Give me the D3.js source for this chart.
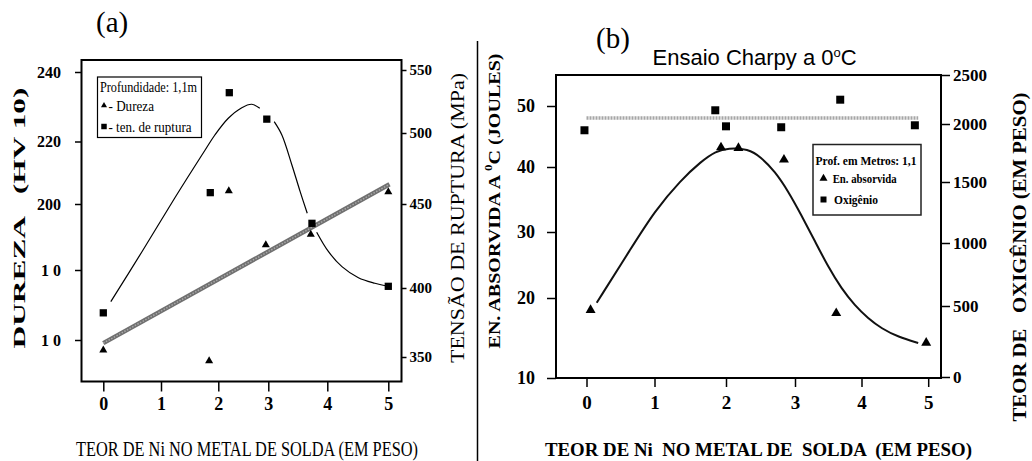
<!DOCTYPE html>
<html>
<head>
<meta charset="utf-8">
<script src="https://cdn.jsdelivr.net/npm/d3@7"></script>
<style>
  body { margin: 0; background: #fff; }
  svg { display: block; }
  text { font-family: "Liberation Serif", "Times New Roman", serif; fill: #000; }
</style>
</head>
<body>
<svg id="chart" width="1032" height="461"></svg>
<script>
// ---- shared x axis: Ni content of the weld metal (wt %)
const niTicks = [0, 1, 2, 3, 4, 5];

// ---- (a) hardness (HV 10) and tensile strength (MPa)
const hvTicks = [240, 220, 200, 180, 160];
const hvTickLabels = ["240", "220", "200", "1 0", "1 0"];
const mpaTicks = [550, 500, 450, 400, 350];

const durezaNi = [0, 1.84, 2.21, 2.95, 3.72, 5];
const durezaHv = [157.1, 154.0, 204.2, 187.6, 190.8, 203.9];
const rupturaNi = [0, 1.86, 2.22, 2.97, 3.74, 5];
const rupturaMpa = [382, 458, 532, 511, 438.5, 401];

// linear fit of the hardness
const durezaFitNi = [0, 5.02];
const durezaFitHv = [159.1, 206.3];

// curve drawn through the tensile strength (null = break in the line)
const rupturaCurveNi = [0.13, 0.67, 1.24, 1.77, 1.94, 2.2, 2.47, 2.67, 2.83, null,
  3.1, 3.23, 3.4, 3.54, 3.66, null, 3.82, 4.02, 4.24, 4.51, 4.78, 4.97];
const rupturaCurveMpa = [390.1, 421.6, 454.2, 488, 498.6, 511.7, 520.1, 522.8, 519.6, null,
  509, 498.6, 477.5, 458.7, 444.5, null, 433.2, 421.6, 412.7, 406.1, 402.8, 401.2];

// ---- (b) Charpy energy at 0 C (J) and oxygen content (ppm)
const jTicks = [50, 40, 30, 20, 10];
const o2Ticks = [2500, 2000, 1500, 1000, 500, 0];

const energiaNi = [0.06, 1.93, 2.18, 2.84, 3.62, 4.97];
const energiaJ = [18.5, 43.2, 43.1, 41.2, 18.1, 14.4];
const oxigenioNi = [-0.03, 1.85, 2.0, 2.8, 3.68, 4.8];
const oxigenioPpm = [1946, 2140, 1980, 1972, 2248, 1989];

// mean oxygen level
const oxigenioMeanNi = [0, 4.85];
const oxigenioMeanPpm = [2061, 2061];

// curve drawn through the absorbed energy
const energiaCurveNi = [0.15, 0.66, 1.0, 1.37, 1.65, 1.86, 2.03, 2.32, 2.51, 2.71, 2.9,
  3.09, 3.3, 3.5, 3.7, 3.9, 4.1, 4.3, 4.55, 4.85];
const energiaCurveJ = [19.4, 27.6, 33.2, 38.0, 40.9, 42.6, 43.1, 43.0, 41.6, 39.3, 36.3,
  32.7, 28.6, 24.7, 21.4, 19.06, 17.44, 16.19, 15.13, 14.38];

// ---- layout
// the scanned axes are not evenly spaced, so every scale maps its tick values
// onto the pixel where that tick sits in the figure
const frameA = { left: 81.5, right: 401.5, top: 60, bottom: 381.5 };
const posA = {
  x: [103.3, 161, 218.3, 268.3, 327.3, 388.3],
  hv: [72, 141.5, 204, 270, 340],
  mpa: [70, 133, 204, 288, 357],
};
const frameB = { left: 556, right: 941, top: 75, bottom: 378 };
const posB = {
  x: [586.5, 654.5, 726, 795, 861.5, 928.2],
  j: [106, 167, 232, 298, 378],
  o2: [75, 124, 182, 243, 306, 377],
};

const serif = "'Liberation Serif', 'Times New Roman', serif";
const svg = d3.select("#chart");
const zip = (xs, ys) => xs.map((x, i) => [x, ys[i]]);

function styleAxis(g, size) {
  g.attr("font-size", size).attr("font-weight", "bold").attr("font-family", serif);
  g.select(".domain").remove();
  g.selectAll(".tick line").attr("stroke", "#000").attr("stroke-width", 1.5);
  g.selectAll(".tick text").attr("fill", "#000").style("font-family", serif);
}

function frame(f, width) {
  svg
    .append("rect")
    .attr("x", f.left)
    .attr("y", f.top)
    .attr("width", f.right - f.left)
    .attr("height", f.bottom - f.top)
    .attr("fill", "none")
    .attr("stroke", "#000")
    .attr("stroke-width", width);
}

function markers(x, y, xs, ys, type, size) {
  svg
    .append("g")
    .selectAll("path")
    .data(zip(xs, ys))
    .join("path")
    .attr("transform", (d) => `translate(${x(d[0])},${y(d[1])})`)
    .attr("d", d3.symbol().type(type).size(size))
    .attr("fill", "#000");
}

function rotatedTitle(x, y, str, size, weight, len) {
  return svg
    .append("text")
    .attr("transform", `translate(${x},${y}) rotate(-90)`)
    .attr("text-anchor", "middle")
    .attr("font-size", size)
    .attr("font-weight", weight)
    .attr("textLength", len)
    .attr("lengthAdjust", "spacingAndGlyphs")
    .style("white-space", "pre")
    .text(str);
}

// ================= (a) =================
const xA = d3.scaleLinear().domain(niTicks).range(posA.x);
const yHv = d3.scaleLinear().domain(hvTicks).range(posA.hv);
const yMpa = d3.scaleLinear().domain(mpaTicks).range(posA.mpa);

// axes
svg
  .append("g")
  .attr("transform", `translate(0,${frameA.bottom})`)
  .call(d3.axisBottom(xA).tickValues(niTicks).tickSize(10).tickPadding(6).tickFormat(d3.format("d")))
  .call((g) => styleAxis(g, 18));

svg
  .append("g")
  .attr("transform", `translate(${frameA.left},0)`)
  .call(d3.axisLeft(yHv).tickValues(hvTicks).tickSize(6.5).tickPadding(14)
    .tickFormat((d, i) => hvTickLabels[i]))
  .call((g) => styleAxis(g, 16))
  .selectAll(".tick text")
  .style("white-space", "pre");

svg
  .append("g")
  .attr("transform", `translate(${frameA.right},0)`)
  .call(d3.axisRight(yMpa).tickValues(mpaTicks).tickSize(5).tickPadding(3).tickFormat(d3.format("d")))
  .call((g) => styleAxis(g, 15));

frame(frameA, 2);

// linear fit of hardness: thick grey textured line
const fitA = d3.line().x((d) => xA(d[0])).y((d) => yHv(d[1]));
svg
  .append("path")
  .attr("d", fitA(zip(durezaFitNi, durezaFitHv)))
  .attr("fill", "none")
  .attr("stroke", "#707070")
  .attr("stroke-width", 4.5);
svg
  .append("path")
  .attr("d", fitA(zip(durezaFitNi, durezaFitHv)))
  .attr("fill", "none")
  .attr("stroke", "#a8a8a8")
  .attr("stroke-width", 1.5)
  .attr("stroke-dasharray", "1.5,1.5");

// tensile strength curve
const curveA = d3
  .line()
  .defined((d) => d[0] != null)
  .x((d) => xA(d[0]))
  .y((d) => yMpa(d[1]))
  .curve(d3.curveCatmullRom.alpha(0.5));
svg
  .append("path")
  .attr("d", curveA(zip(rupturaCurveNi, rupturaCurveMpa)))
  .attr("fill", "none")
  .attr("stroke", "#000")
  .attr("stroke-width", 1.2);

markers(xA, yHv, durezaNi, durezaHv, d3.symbolTriangle, 28);
markers(xA, yMpa, rupturaNi, rupturaMpa, d3.symbolSquare, 53);

// legend (a)
svg.append("rect")
  .attr("x", 97.5).attr("y", 77).attr("width", 104).attr("height", 60.5)
  .attr("fill", "#fff").attr("stroke", "#000").attr("stroke-width", 1.2);
const legA = [
  { sym: null, label: "Profundidade: 1,1m", x: 100, y: 91.5, len: 97 },
  { sym: d3.symbolTriangle, size: 16, label: "- Dureza", x: 108.5, y: 110.5, len: 45.5 },
  { sym: d3.symbolSquare, size: 30, label: "- ten. de ruptura", x: 108.5, y: 131.5, len: 83 },
];
legA.forEach((d) => {
  if (d.sym) {
    svg.append("path")
      .attr("transform", `translate(104,${d.y - 5})`)
      .attr("d", d3.symbol().type(d.sym).size(d.size)());
  }
  svg.append("text")
    .attr("x", d.x).attr("y", d.y)
    .attr("font-size", 15)
    .attr("textLength", d.len)
    .attr("lengthAdjust", "spacingAndGlyphs")
    .text(d.label);
});

// titles (a)
rotatedTitle(25, 218, "DUREZA   (HV 10)", 17, "bold", 261);
rotatedTitle(464, 218, "TENSÃO DE RUPTURA (MPa)", 18, "normal", 290);
svg.append("text")
  .attr("x", 247).attr("y", 456)
  .attr("text-anchor", "middle")
  .attr("font-size", 20)
  .attr("textLength", 342)
  .attr("lengthAdjust", "spacingAndGlyphs")
  .text("TEOR DE Ni NO METAL DE SOLDA (EM PESO)");
svg.append("text")
  .attr("x", 96).attr("y", 32)
  .attr("font-size", 29)
  .text("(a)");

// separator between the two panels
svg.append("line")
  .attr("x1", 477.5).attr("x2", 477.5).attr("y1", 41).attr("y2", 461)
  .attr("stroke", "#000").attr("stroke-width", 1.5);

// ================= (b) =================
const xB = d3.scaleLinear().domain(niTicks).range(posB.x);
const yJ = d3.scaleLinear().domain(jTicks).range(posB.j);
const yO2 = d3.scaleLinear().domain(o2Ticks).range(posB.o2);

svg
  .append("g")
  .attr("transform", `translate(0,${frameB.bottom})`)
  .call(d3.axisBottom(xB).tickValues(niTicks).tickSize(9).tickPadding(9).tickFormat(d3.format("d")))
  .call((g) => styleAxis(g, 19));

svg
  .append("g")
  .attr("transform", `translate(${frameB.left},0)`)
  .call(d3.axisLeft(yJ).tickValues(jTicks).tickSize(9).tickPadding(12).tickFormat(d3.format("d")))
  .call((g) => styleAxis(g, 18));

svg
  .append("g")
  .attr("transform", `translate(${frameB.right},0)`)
  .call(d3.axisRight(yO2).tickValues(o2Ticks).tickSize(9).tickPadding(3).tickFormat(d3.format("d")))
  .call((g) => styleAxis(g, 17));

frame(frameB, 2);

// mean oxygen: grey dotted band
const meanB = d3.line().x((d) => xB(d[0])).y((d) => yO2(d[1]));
svg
  .append("path")
  .attr("d", meanB(zip(oxigenioMeanNi, oxigenioMeanPpm)))
  .attr("fill", "none")
  .attr("stroke", "#a6a6a6")
  .attr("stroke-width", 3.5)
  .attr("stroke-dasharray", "2,1");

// absorbed energy curve
const curveB = d3
  .line()
  .x((d) => xB(d[0]))
  .y((d) => yJ(d[1]))
  .curve(d3.curveBasis);
svg
  .append("path")
  .attr("d", curveB(zip(energiaCurveNi, energiaCurveJ)))
  .attr("fill", "none")
  .attr("stroke", "#111")
  .attr("stroke-width", 2);

markers(xB, yO2, oxigenioNi, oxigenioPpm, d3.symbolSquare, 64);
markers(xB, yJ, energiaNi, energiaJ, d3.symbolTriangle, 43);

// legend (b)
svg.append("rect")
  .attr("x", 813).attr("y", 144.5).attr("width", 108).attr("height", 70.5)
  .attr("fill", "#fff").attr("stroke", "#222").attr("stroke-width", 1.5);
const legB = [
  { sym: null, label: "Prof. em Metros: 1,1", x: 815.5, y: 165, len: 101 },
  { sym: d3.symbolTriangle, size: 28, label: "En. absorvida", x: 832.7, y: 182.5, len: 64 },
  { sym: d3.symbolSquare, size: 36, label: "Oxigênio", x: 834, y: 203.5, len: 44 },
];
legB.forEach((d) => {
  if (d.sym) {
    svg.append("path")
      .attr("transform", `translate(823.5,${d.y - 4})`)
      .attr("d", d3.symbol().type(d.sym).size(d.size)());
  }
  svg.append("text")
    .attr("x", d.x).attr("y", d.y)
    .attr("font-size", 12.5)
    .attr("font-weight", "bold")
    .attr("textLength", d.len)
    .attr("lengthAdjust", "spacingAndGlyphs")
    .text(d.label);
});

// titles (b)
const tJ = rotatedTitle(500, 201, null, 17, "bold", 295);
tJ.append("tspan").text("EN. ABSORVIDA A ");
tJ.append("tspan").attr("font-size", 11).attr("dy", -8).text("0");
tJ.append("tspan").attr("dy", 8).text("C (JOULES)");

rotatedTitle(1026, 257, "TEOR DE   OXIGÊNIO (EM PESO)", 18, "bold", 329);

svg.append("text")
  .attr("x", 758.5).attr("y", 456)
  .attr("text-anchor", "middle")
  .attr("font-size", 19)
  .attr("font-weight", "bold")
  .attr("textLength", 427)
  .attr("lengthAdjust", "spacingAndGlyphs")
  .style("white-space", "pre")
  .text("TEOR DE Ni  NO METAL DE  SOLDA  (EM PESO)");

const tB = svg.append("text")
  .attr("x", 652.5).attr("y", 65)
  .style("font-family", "'Liberation Sans', Arial, sans-serif")
  .attr("font-size", 22);
tB.append("tspan").text("Ensaio Charpy a 0");
tB.append("tspan").attr("font-size", 13).attr("dy", -8).text("o");
tB.append("tspan").attr("dy", 8).text("C");

svg.append("text")
  .attr("x", 596).attr("y", 48)
  .attr("font-size", 29)
  .text("(b)");
</script>
</body>
</html>
